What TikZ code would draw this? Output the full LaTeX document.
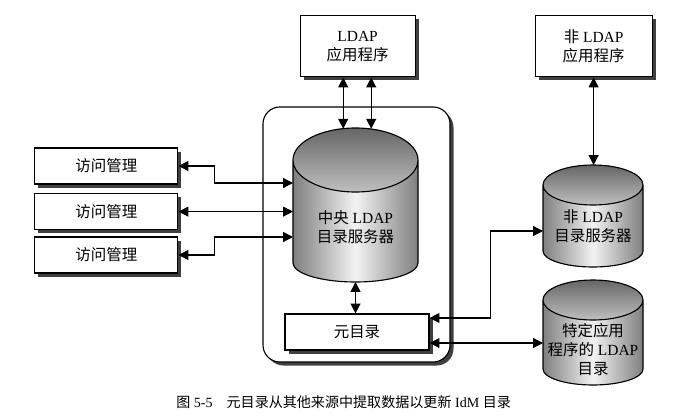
\documentclass[tikz,border=0pt]{standalone}
\usepackage{fontspec}
\setmainfont{Liberation Serif}
\newfontfamily\cjk{Noto Sans CJK SC}
\usetikzlibrary{arrows.meta, shadows, backgrounds}
\newcommand{\zh}[1]{{\cjk #1}}
% cylinder round a body node: node, x radius, top y radius, bottom y radius
\newcommand{\dbcyl}[4]{%
  \shade[left color=black!50, right color=black!50, middle color=black!5]
    (#1.north west) -- ([yshift=#4]#1.south west)
    arc[start angle=180, end angle=360, x radius=#2, y radius=#4]
    -- (#1.north east) arc[start angle=0, end angle=180, x radius=#2, y radius=#3] -- cycle;
  \shade[top color=black!60, bottom color=black!25] (#1.north) ellipse[x radius=#2, y radius=#3];
  \draw[line width=0.8pt] (#1.north west) -- ([yshift=#4]#1.south west)
    arc[start angle=180, end angle=360, x radius=#2, y radius=#4] -- (#1.north east)
    arc[start angle=0, end angle=360, x radius=#2, y radius=#3];
}

\begin{document}
\begin{tikzpicture}[
      font=\fontsize{11}{13.5}\selectfont,
      box/.style={draw=black, line width=0.8pt, fill=white, align=center, inner sep=2pt,
                  drop shadow={shadow xshift=2.5pt, shadow yshift=-2.5pt, fill=black!75, opacity=1}},
      frame/.style={box, rounded corners=12pt},
      dbbody/.style={align=center, inner sep=0pt, outer sep=0pt},
      dar/.style={{Triangle[length=7pt,width=7pt]}-{Triangle[length=7pt,width=7pt]},
                  line width=0.9pt},
    ]
    \useasboundingbox (0,0) rectangle (17.5,-10.425);

    % boxes on top
    \node[box, minimum width=2.875cm, minimum height=1.525cm] (ldapapp) at (8.94,-1.16)
      {LDAP\\\zh{应用程序}};
    \node[box, minimum width=2.925cm, minimum height=1.525cm] (nonapp) at (14.84,-1.16)
      {\zh{非} LDAP\\\zh{应用程序}};

    % access management
    \node[box, minimum width=3.575cm, minimum height=0.9cm] (acc1) at (2.66,-4.15) {\zh{访问管理}};
    \node[box, minimum width=3.575cm, minimum height=0.9cm] (acc2) at (2.66,-5.29) {\zh{访问管理}};
    \node[box, minimum width=3.575cm, minimum height=0.9cm] (acc3) at (2.66,-6.375) {\zh{访问管理}};

    % directories (body below the top ellipse)
    \node[dbbody, minimum width=3.125cm, minimum height=3.05cm] (central) at (8.8875,-5.525)
      {\rule{0pt}{18pt}\zh{中央} LDAP\\\zh{目录服务器}};
    \node[box, minimum width=3.6cm, minimum height=0.9cm] (meta) at (8.925,-8.3) {\zh{元目录}};
    \node[dbbody, minimum width=2.5cm, minimum height=2.05cm] (nonldap) at (14.825,-5.65)
      {\zh{非} LDAP\\\zh{目录服务器}};
    \node[dbbody, minimum width=2.5cm, minimum height=2.125cm] (special) at (14.825,-8.5625)
      {\rule{0pt}{20pt}\zh{特定应用}\\\zh{程序的} LDAP\\\zh{目录}};

    \node (cap) at (8.59,-10.05) {\fontsize{10}{12}\selectfont
      \zh{图} 5-5\quad\zh{元目录从其他来源中提取数据以更新} IdM \zh{目录}};

    \begin{pgfonlayer}{background}
      \node[frame, minimum width=4.675cm, minimum height=6.375cm] (idm) at (8.9125,-5.8625) {};
      \dbcyl{central}{1.5625cm}{0.8cm}{0.475cm}
      \dbcyl{nonldap}{1.25cm}{0.5cm}{0.4cm}
      \dbcyl{special}{1.25cm}{0.5cm}{0.4cm}
    \end{pgfonlayer}

    % connectors
    \draw[dar] (acc1.east) -- ++(0.9,0) |- ([yshift=0.95cm]central.west);
    \draw[dar] (acc2.east) -- (acc2.east -| central.west);
    \draw[dar] (acc3.east) -- ++(0.9,0) |- ([yshift=-0.4cm]central.west);
    \draw[dar] ([xshift=-3.6mm]ldapapp.south) -- ([xshift=-3.6mm,yshift=0.78cm]ldapapp.south |- central.north);
    \draw[dar] ([xshift=3.4mm]ldapapp.south) -- ([xshift=3.4mm,yshift=0.78cm]ldapapp.south |- central.north);
    \draw[dar] (central.south) -- (central.south |- meta.north);
    \draw[dar] (nonapp.south) -- ([yshift=0.5cm]nonapp.south |- nonldap.north);
    \draw[dar] ([yshift=3.5mm]meta.east) -- ++(1.525,0) |- ([yshift=-1.25mm]nonldap.west);
    \draw[dar] ([yshift=-2.75mm]meta.east) -- ([yshift=-2.75mm]meta.east -| special.west);
  \end{tikzpicture}
\end{document}
